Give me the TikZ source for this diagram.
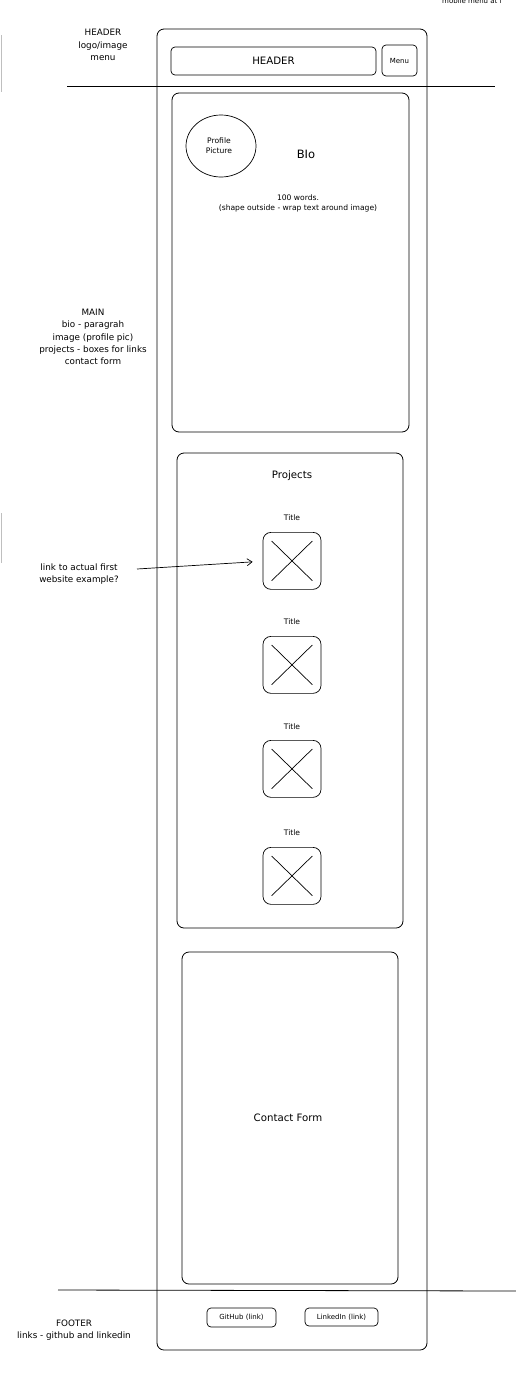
\documentclass[tikz,border=0pt]{standalone}
\usepackage{fontspec}
\setmainfont{DejaVu Sans}
\usetikzlibrary{arrows.meta}
\begin{document}
\begin{tikzpicture}[x=1pt,y=-1pt,
  box/.style={draw,line width=0.8pt,rounded corners=7pt},
  btn/.style={draw,line width=0.7pt,rounded corners=4pt},
  note/.style={font=\fontsize{8.8}{12.3}\selectfont,align=center,inner sep=0pt},
  lbl/.style={font=\fontsize{7}{10}\selectfont,align=center,inner sep=0pt},
  big/.style={font=\fontsize{10.2}{11}\selectfont,inner sep=0pt},
  rule/.style={line width=0.8pt},
  faint/.style={draw=black!25,line width=1pt}]
\useasboundingbox (0,0) rectangle (516,1392);
% faint cut-off marks
\draw[faint] (1,35) -- (1,92);
\draw[faint] (1,513) -- (1,563);
% top-right cut text
\node[lbl,anchor=base west] (mob) at (442,4) {mobile menu at l};
% outer frame
\draw[box] (157,29) rectangle (427,1350);
% header
\draw[btn] (171,47) rectangle node[big] (hdr) {HEADER} (376,75);
\draw[btn] (382,45) rectangle node[lbl] (menu) {Menu} (417,76);
\coordinate (hl1) at (67,86); \coordinate (hl2) at (495,86);
\draw[rule] (hl1) -- (hl2);
\node[note] (hdrnote) at (103,45) {HEADER\\logo/image\\menu};
% bio
\draw[box] (172,93) rectangle (409,432);
\draw[line width=0.7pt] (221,146) ellipse [x radius=35, y radius=31];
\node[lbl,font=\fontsize{7.6}{10}\selectfont] (pp) at (219,146) {Profile\\Picture};
\node[font=\fontsize{11.5}{12}\selectfont,inner sep=0pt] (bio) at (306,154) {BIo};
\node[lbl,font=\fontsize{7.6}{10}\selectfont] (words) at (298,203) {100 words.\\(shape outside - wrap text around image)};
\node[note] (mainnote) at (93,337) {MAIN\\bio - paragrah\\image (profile pic)\\projects - boxes for links\\contact form};
% projects
\draw[box] (177,453) rectangle (403,928);
\node[big] (proj) at (292,476) {Projects};
\foreach \t/\b [count=\i] in {518/532,622/636,727/740,833/847}{
  \node[lbl,font=\fontsize{7.6}{10}\selectfont] (t\i) at (292,\t) {Title};
  \node[btn,minimum width=58pt,minimum height=57pt,anchor=north,inner sep=0pt,rounded corners=8pt] (p\i) at (292,\b) {};
  \draw[line width=0.7pt] ([shift={(9,9)}]p\i.north west) -- ([shift={(-9,-9)}]p\i.south east);
  \draw[line width=0.7pt] ([shift={(-9,9)}]p\i.north east) -- ([shift={(9,-9)}]p\i.south west);
}
\node[note] (linknote) at (79,574) {link to actual first\\website example?};
\coordinate (astart) at (137,569);
\draw[line width=0.7pt,-{Straight Barb[length=5pt,width=7pt]}] (astart) -- ([xshift=-10pt,yshift=-1pt]p1.west);
% contact
\draw[box] (182,952) rectangle (398,1284);
\node[big] (cf) at (288,1118) {Contact Form};
% footer
\coordinate (fl1) at (58,1290); \coordinate (fl2) at (516,1291);
\draw[rule] (fl1) -- (fl2);
\draw[btn] (207,1308) rectangle node[lbl] (gh) {GitHub (link)} (276,1327);
\draw[btn] (305,1308) rectangle node[lbl] (li) {LinkedIn (link)} (378,1326);
\node[note] (footnote) at (74,1330) {FOOTER\\links - github and linkedin};
\end{tikzpicture}
\end{document}
